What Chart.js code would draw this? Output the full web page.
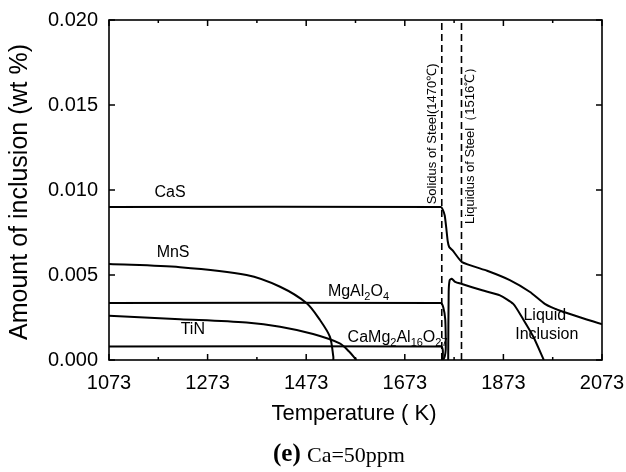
<!DOCTYPE html>
<html>
<head>
<meta charset="utf-8">
<script src="https://cdn.jsdelivr.net/npm/chart.js@4"></script>
<style>
  html, body { margin: 0; padding: 0; background: #fff; }
  #wrap { width: 626px; height: 472px; }
</style>
</head>
<body>
<div id="wrap"><canvas id="chart" width="626" height="472"></canvas></div>
<script>
// axis ticks
const xTicks = [1073, 1273, 1473, 1673, 1873, 2073];
const yTicks = [0, 0.005, 0.010, 0.015, 0.020];

// temperatures (K) and amounts (wt %)
const casT = [1073, 1746, 1750, 1754, 1757, 1760, 1763, 1770, 1789, 1840, 1886, 1927, 1957, 1988, 2073];
const casV = [0.0090, 0.0090, 0.00885, 0.0085, 0.0078, 0.0070, 0.00665, 0.00645, 0.00576, 0.00525, 0.0047, 0.0040, 0.0033, 0.0029, 0.0021];

const liqT = [1761, 1762, 1764, 1768, 1775, 1789, 1830, 1866, 1893, 1913, 1934, 1955];
const liqV = [0, 0.0040, 0.0047, 0.00478, 0.0046, 0.00447, 0.0041, 0.0038, 0.0033, 0.0024, 0.00135, 0];

const mnsT = [1073, 1217, 1352, 1420, 1474, 1501, 1521, 1528, 1528];
const mnsV = [0.00565, 0.00546, 0.0050, 0.00431, 0.00334, 0.00235, 0.00137, 0.0002, 0];

const spinelT = [1073, 1746, 1751, 1755, 1756, 1756, 1754, 1751];
const spinelV = [0.00335, 0.00335, 0.0031, 0.0024, 0.0014, 0.0006, 0.0002, 0];

const tinT = [1073, 1217, 1352, 1420, 1487, 1541, 1560, 1575];
const tinV = [0.0026, 0.0024, 0.0022, 0.00196, 0.00153, 0.00098, 0.0005, 0];

const cmaT = [1073, 1747, 1750, 1750, 1749];
const cmaV = [0.0008, 0.0008, 0.0006, 0.0002, 0];

const solidusT = 1748;
const liquidusT = 1788;

function pts(ts, vs) {
    return ts.map((t, i) => ({ x: t, y: vs[i] }));
}

function curve(label, ts, vs, tension) {
    return {
        label: label,
        data: pts(ts, vs),
        showLine: true,
        borderColor: '#000',
        borderWidth: 2,
        pointRadius: 0,
        tension: tension,
        fill: false
    };
}

function dashed(label, t) {
    return {
        label: label,
        data: [{ x: t, y: 0 }, { x: t, y: 0.020 }],
        showLine: true,
        borderColor: '#000',
        borderWidth: 1.6,
        borderDash: [7, 4],
        pointRadius: 0
    };
}

// draws text with subscript parts: [['MgAl', false], ['2', true], ...]
function richText(ctx, parts, x, y, size) {
    let cx = x;
    parts.forEach(p => {
        const sub = p[1];
        ctx.font = (sub ? Math.round(size * 0.7) : size) + 'px "Liberation Sans", Arial, sans-serif';
        ctx.fillText(p[0], cx, sub ? y + size * 0.3 : y);
        cx += ctx.measureText(p[0]).width;
    });
}

const overlay = {
    id: 'overlay',
    afterDraw(chart) {
        const ctx = chart.ctx;
        const a = chart.chartArea;
        const xs = chart.scales.x, ys = chart.scales.y;
        const X = v => xs.getPixelForValue(v);
        const Y = v => ys.getPixelForValue(v);

        ctx.save();
        // frame
        ctx.strokeStyle = '#000';
        ctx.lineWidth = 1.6;
        ctx.strokeRect(a.left, a.top, a.right - a.left, a.bottom - a.top);

        // inward ticks
        ctx.lineWidth = 1.5;
        ctx.beginPath();
        xTicks.forEach((t, i) => {
            const px = X(t);
            ctx.moveTo(px, a.bottom); ctx.lineTo(px, a.bottom - 6);
            ctx.moveTo(px, a.top); ctx.lineTo(px, a.top + 6);
            if (i < xTicks.length - 1) {
                const m = X((t + xTicks[i + 1]) / 2);
                ctx.moveTo(m, a.bottom); ctx.lineTo(m, a.bottom - 3);
                ctx.moveTo(m, a.top); ctx.lineTo(m, a.top + 3);
            }
        });
        yTicks.forEach(v => {
            const py = Y(v);
            ctx.moveTo(a.left, py); ctx.lineTo(a.left + 6, py);
            ctx.moveTo(a.right, py); ctx.lineTo(a.right - 6, py);
        });
        ctx.stroke();

        // curve labels
        ctx.fillStyle = '#000';
        ctx.textBaseline = 'middle';
        ctx.textAlign = 'center';
        ctx.font = '16px "Liberation Sans", Arial, sans-serif';
        ctx.fillText('CaS', X(1197), Y(0.00985));
        ctx.fillText('MnS', X(1203), Y(0.0063));
        ctx.fillText('TiN', X(1243), Y(0.00178));
        ctx.fillText('Liquid', X(1957), Y(0.00259));
        ctx.fillText('Inclusion', X(1961), Y(0.00147));
        ctx.textAlign = 'left';
        richText(ctx, [['MgAl', false], ['2', true], ['O', false], ['4', true]], X(1517), Y(0.0040), 16);
        richText(ctx, [['CaMg', false], ['2', true], ['Al', false], ['16', true], ['O', false], ['27', true]], X(1557), Y(0.0013), 16);

        // vertical notes
        ctx.font = '13px "Liberation Sans", Arial, sans-serif';
        ctx.textAlign = 'center';
        ctx.save();
        ctx.translate(X(1730), Y(0.0133));
        ctx.rotate(-Math.PI / 2);
        ctx.fillText('Solidus of Steel(1470\u2103)', 0, 0);
        ctx.restore();
        ctx.save();
        ctx.translate(X(1806), Y(0.0128));
        ctx.rotate(-Math.PI / 2);
        ctx.fillText('Liquidus of Steel\uff081516\u2103\uff09', 0, 0);
        ctx.restore();

        // axis titles
        ctx.font = '22px "Liberation Sans", Arial, sans-serif';
        ctx.fillText('Temperature ( K)', 354, 414);
        ctx.save();
        ctx.font = '25px "Liberation Sans", Arial, sans-serif';
        ctx.translate(20, 192);
        ctx.rotate(-Math.PI / 2);
        ctx.fillText('Amount of inclusion (wt %)', 0, 0);
        ctx.restore();

        // caption
        ctx.textAlign = 'left';
        const fBold = 'bold 25px "Liberation Serif", "Times New Roman", serif';
        const fReg = '22px "Liberation Serif", "Times New Roman", serif';
        ctx.font = fBold;
        const w1 = ctx.measureText('(e) ').width;
        ctx.font = fReg;
        const w2 = ctx.measureText('Ca=50ppm').width;
        const start = 339 - (w1 + w2) / 2;
        ctx.font = fBold;
        ctx.fillText('(e) ', start, 455);
        ctx.font = fReg;
        ctx.fillText('Ca=50ppm', start + w1, 456);
        ctx.restore();
    }
};

new Chart(document.getElementById('chart'), {
    type: 'scatter',
    data: {
        datasets: [
            curve('CaS', casT, casV, 0.15),
            curve('Liquid Inclusion', liqT, liqV, 0.2),
            curve('MnS', mnsT, mnsV, 0.3),
            curve('MgAl2O4', spinelT, spinelV, 0.2),
            curve('TiN', tinT, tinV, 0.3),
            curve('CaMg2Al16O27', cmaT, cmaV, 0.2),
            dashed('Solidus', solidusT),
            dashed('Liquidus', liquidusT)
        ]
    },
    options: {
        responsive: false,
        animation: false,
        layout: { padding: { left: 0, right: 24, top: 20, bottom: 0 } },
        plugins: {
            legend: { display: false },
            tooltip: { enabled: false }
        },
        scales: {
            x: {
                type: 'linear',
                min: 1073,
                max: 2073,
                afterBuildTicks: s => { s.ticks = xTicks.map(v => ({ value: v })); },
                afterFit: s => { s.height = 112; s.paddingLeft = 0; s.paddingRight = 0; },
                grid: { display: false, drawTicks: false },
                border: { display: false },
                ticks: {
                    color: '#000',
                    padding: 11,
                    maxRotation: 0,
                    font: { family: '"Liberation Sans", Arial, sans-serif', size: 20 },
                    callback: v => String(v)
                }
            },
            y: {
                type: 'linear',
                min: 0,
                max: 0.020,
                afterBuildTicks: s => { s.ticks = yTicks.map(v => ({ value: v })); },
                afterFit: s => { s.width = 109; s.paddingTop = 0; s.paddingBottom = 0; },
                grid: { display: false, drawTicks: false },
                border: { display: false },
                ticks: {
                    color: '#000',
                    padding: 11,
                    font: { family: '"Liberation Sans", Arial, sans-serif', size: 20 },
                    callback: v => v.toFixed(3)
                }
            }
        }
    },
    plugins: [overlay]
});
</script>
</body>
</html>
